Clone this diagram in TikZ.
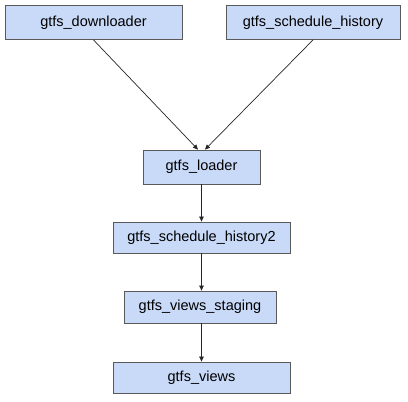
\documentclass[tikz,border=0pt]{standalone}
\usepackage{fontspec}
\setmainfont{Liberation Sans}
\usetikzlibrary{arrows.meta}
\definecolor{boxfill}{HTML}{C9DAF8}
\definecolor{boxline}{HTML}{595959}
\begin{document}
\begin{tikzpicture}[x=1pt,y=-1pt,
  box/.style={draw=boxline,fill=boxfill,line width=0.8pt,inner sep=0pt,font=\fontsize{14.5}{16}\selectfont},
  conn/.style={draw=black!85,line width=0.7pt,-{Triangle[length=5pt,width=4.5pt]}}]
\useasboundingbox (0,0) rectangle (408,402);
\node[box,minimum width=177pt,minimum height=34pt] (dl) at (93.5,22.5) {gtfs\_downloader};
\node[box,minimum width=174pt,minimum height=34pt] (sh) at (313,22.5) {gtfs\_schedule\_history};
\node[box,minimum width=117pt,minimum height=34pt] (ld) at (201.5,167) {gtfs\_loader};
\node[box,minimum width=177pt,minimum height=31pt] (sh2) at (201.5,237.5) {gtfs\_schedule\_history2};
\node[box,minimum width=152pt,minimum height=32pt] (vs) at (200,307) {gtfs\_views\_staging};
\node[box,minimum width=177pt,minimum height=31pt] (vw) at (201.5,377.5) {gtfs\_views};
\draw[conn] (dl.south) -- (ld.north -| 198,0);
\draw[conn] (sh.south) -- (ld.north -| 205,0);
\draw[conn] (ld.south -| 201.5,0) -- (sh2.north -| 201.5,0);
\draw[conn] (sh2.south -| 201.5,0) -- (vs.north -| 201.5,0);
\draw[conn] (vs.south -| 201.5,0) -- (vw.north -| 201.5,0);
\end{tikzpicture}
\end{document}
